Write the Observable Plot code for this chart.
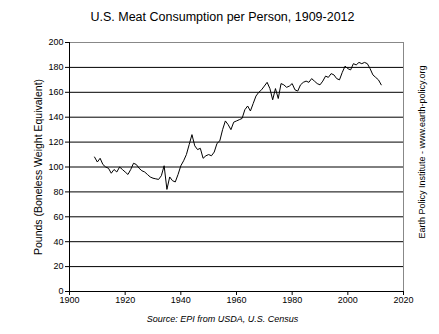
<!DOCTYPE html>
<html>
<head>
<meta charset="utf-8">
<script src="https://cdn.jsdelivr.net/npm/d3@7"></script>
<script src="https://cdn.jsdelivr.net/npm/@observablehq/plot@0.6"></script>
<style>
  html, body { margin: 0; padding: 0; background: #fff; }
  body { width: 439px; height: 334px; overflow: hidden; font-family: "Liberation Sans", Arial, sans-serif; }
  #title { height: 30px; line-height: 34px; text-align: center; font-size: 12.5px; color: #000; padding-left: 6px; box-sizing: border-box; }
  #caption { height: 24px; line-height: 18px; font-size: 9px; font-style: italic; text-align: center; padding-left: 6px; box-sizing: border-box; }
  svg { display: block; }
</style>
</head>
<body>
<div id="title">U.S. Meat Consumption per Person, 1909-2012</div>
<div id="chart"></div>
<div id="caption">Source: EPI from USDA, U.S. Census</div>
<script>
const years = d3.range(1909, 2013);
const pounds = [
  108, 104, 107, 102, 100, 99, 95, 98, 96, 100,
  98, 96, 94, 98, 103, 102, 99, 97, 96, 94,
  92, 91, 90.5, 90, 93, 101, 82, 92, 89, 88,
  94, 101, 105, 110, 118, 126, 117, 114, 115, 107,
  109, 110, 109, 112, 119, 121, 130, 137, 134, 130,
  136, 137, 138, 139, 146, 149, 145, 151, 157, 160,
  162, 165, 168, 163, 154, 163, 155, 167, 166, 164,
  165, 167, 162, 161, 166, 168, 169, 168, 171, 169,
  167, 166, 169, 173, 172, 175, 174, 171, 170, 176,
  181, 179, 178, 183, 182, 184, 183, 184, 183, 179,
  174, 172, 170, 166
];
const xTicks = [1900, 1920, 1940, 1960, 1980, 2000, 2020];
const yTicks = [0, 20, 40, 60, 80, 100, 120, 140, 160, 180, 200];
const yLabel = "Pounds (Boneless Weight Equivalent)";
const sideNote = "Earth Policy Institute - www.earth-policy.org";

const data = years.map((y, i) => ({year: y, value: pounds[i]}));

const chart = Plot.plot({
  width: 439,
  height: 280,
  marginLeft: 69,
  marginRight: 36,
  marginTop: 12,
  marginBottom: 19,
  style: {fontFamily: "Liberation Sans, Arial, sans-serif", fontSize: "9px", color: "#000", background: "#fff", overflow: "visible"},
  x: {domain: [1900, 2020]},
  y: {domain: [0, 200]},
  marks: [
    Plot.ruleY(yTicks.filter(d => d > 0 && d < 200), {stroke: "#000", strokeWidth: 1}),
    Plot.ruleY([200], {stroke: "#888", strokeWidth: 1}),
    Plot.ruleX([2020], {stroke: "#888", strokeWidth: 1}),
    Plot.ruleX([1900], {stroke: "#000", strokeWidth: 1}),
    Plot.ruleY([0], {stroke: "#000", strokeWidth: 1}),
    Plot.axisY({ticks: yTicks, tickSize: 4, tickPadding: 2, label: null, fontSize: 9}),
    Plot.axisX({ticks: xTicks, tickSize: 4, tickPadding: 1, tickFormat: "d", label: null, fontSize: 9}),
    Plot.line(data, {x: "year", y: "value", stroke: "#000", strokeWidth: 1}),
    Plot.text([yLabel], {text: d => d, frameAnchor: "left", textAnchor: "middle", dx: -31, rotate: -90, fontSize: 10.5}),
    Plot.text([sideNote], {text: d => d, frameAnchor: "right", textAnchor: "middle", dx: 19, dy: -15, rotate: -90, fontSize: 9})
  ]
});
document.getElementById("chart").appendChild(chart);
</script>
</body>
</html>
